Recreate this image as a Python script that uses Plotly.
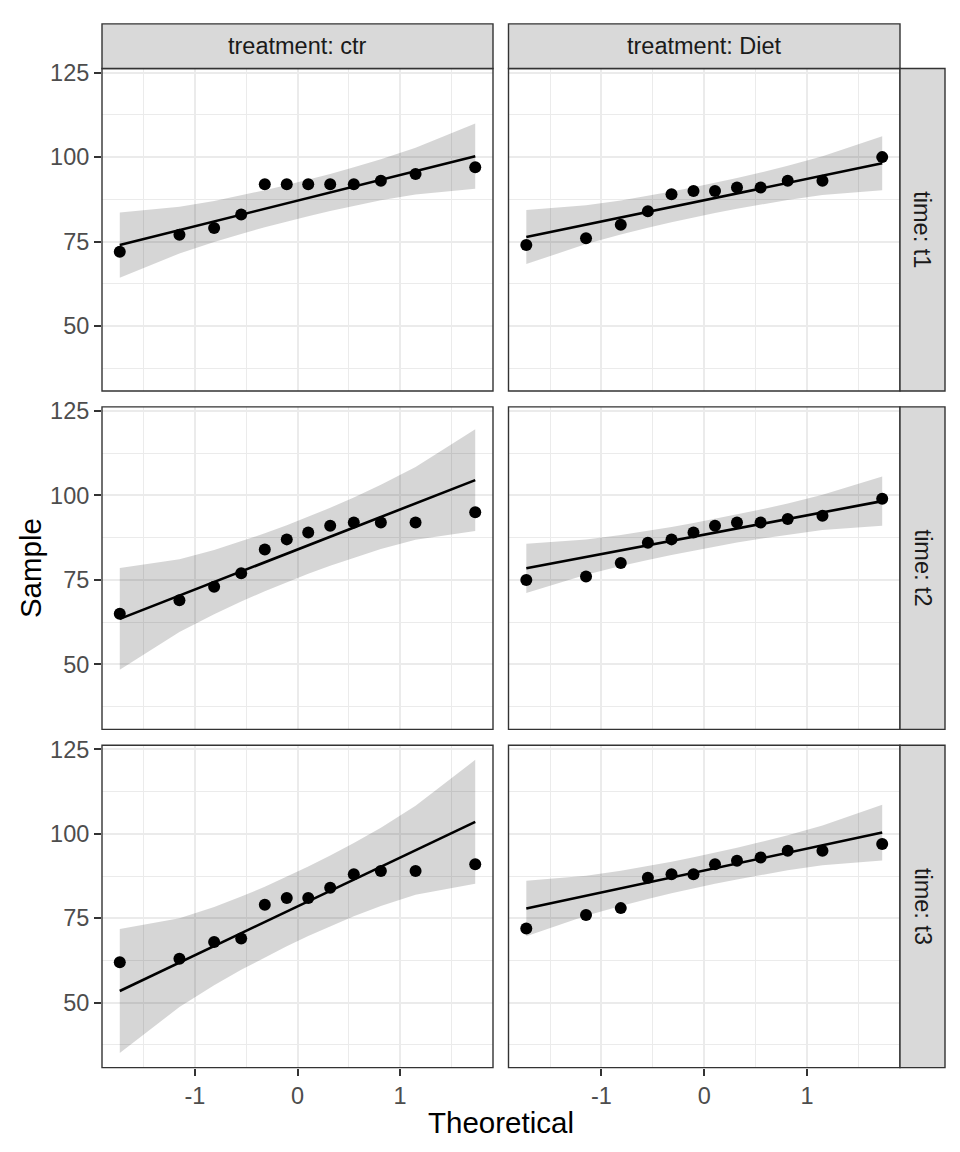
import numpy as np
import plotly.graph_objects as go
from statistics import NormalDist

# ---- data ----
treatments = ["ctr", "Diet"]
times = ["t1", "t2", "t3"]

ctr_t1 = [72, 77, 79, 83, 92, 92, 92, 92, 92, 93, 95, 97]
ctr_t2 = [65, 69, 73, 77, 84, 87, 89, 91, 92, 92, 92, 95]
ctr_t3 = [62, 63, 68, 69, 79, 81, 81, 84, 88, 89, 89, 91]
diet_t1 = [74, 76, 80, 84, 89, 90, 90, 91, 91, 93, 93, 100]
diet_t2 = [75, 76, 80, 86, 87, 89, 91, 92, 92, 93, 94, 99]
diet_t3 = [72, 76, 78, 87, 88, 88, 91, 92, 93, 95, 95, 97]

samples = {
    ("ctr", "t1"): ctr_t1, ("ctr", "t2"): ctr_t2, ("ctr", "t3"): ctr_t3,
    ("Diet", "t1"): diet_t1, ("Diet", "t2"): diet_t2, ("Diet", "t3"): diet_t3,
}

x_ticks = [-1, 0, 1]
x_ticklabels = ["-1", "0", "1"]
x_minor = [-1.5, -0.5, 0.5, 1.5]
y_ticks = [50, 75, 100, 125]
y_ticklabels = ["50", "75", "100", "125"]
y_minor = [37.5, 62.5, 87.5, 112.5]

# ---- QQ statistics (as ggqqplot computes them) ----
nd = NormalDist()


def qq_stats(values, level=0.95):
    y = np.sort(np.asarray(values, dtype=float))
    n = len(y)
    a = 3 / 8 if n <= 10 else 0.5
    P = (np.arange(1, n + 1) - a) / (n + 1 - 2 * a)
    z = np.array([nd.inv_cdf(p) for p in P])
    qy = np.quantile(y, [0.25, 0.75])
    qz = np.array([nd.inv_cdf(0.25), nd.inv_cdf(0.75)])
    b = (qy[1] - qy[0]) / (qz[1] - qz[0])
    a0 = qy[0] - b * qz[0]
    zz = nd.inv_cdf(1 - (1 - level) / 2)
    dens = np.array([nd.pdf(v) for v in z])
    se = (b / dens) * np.sqrt(P * (1 - P) / n)
    fit = a0 + b * z
    return z, y, fit, fit + zz * se, fit - zz * se


stats = {k: qq_stats(v) for k, v in samples.items()}

# shared ranges with 5% expansion
all_z = np.concatenate([s[0] for s in stats.values()])
all_y = np.concatenate([np.concatenate([s[1], s[3], s[4]]) for s in stats.values()])
zx0, zx1 = all_z.min(), all_z.max()
yx0, yx1 = all_y.min(), all_y.max()
xr = [zx0 - 0.05 * (zx1 - zx0), zx1 + 0.05 * (zx1 - zx0)]
yr = [yx0 - 0.05 * (yx1 - yx0), yx1 + 0.05 * (yx1 - yx0)]

# ---- layout geometry (pixels) ----
W, H = 960, 1152
col_px = [(102, 493), (508.5, 900)]
row_px = [(60, 385), (401, 726), (742, 1067)]
strip_top = (15, 60)
strip_right = (900, 945)


def px(x):
    return x / W


def py(y):
    return 1 - y / H


FONT = "Liberation Sans, Arial, Helvetica, sans-serif"
BORDER = "#333333"
GRID = "#EBEBEB"
STRIP = "#D9D9D9"
SMALL = 23.5
BIG = 29.5

fig = go.Figure()
layout = dict(
    width=W, height=H, margin=dict(l=0, r=0, t=0, b=0), autosize=False,
    paper_bgcolor="white", plot_bgcolor="white", showlegend=False,
    font=dict(family=FONT),
)
shapes = []
annotations = []

idx = 0
for ri, t in enumerate(times):
    for ci, tr in enumerate(treatments):
        idx += 1
        xa = "x" if idx == 1 else f"x{idx}"
        ya = "y" if idx == 1 else f"y{idx}"
        xkey = "xaxis" if idx == 1 else f"xaxis{idx}"
        ykey = "yaxis" if idx == 1 else f"yaxis{idx}"
        z, y, fit, up, lo = stats[(tr, t)]

        fig.add_trace(go.Scatter(
            x=np.concatenate([z, z[::-1]]), y=np.concatenate([up, lo[::-1]]),
            fill="toself", fillcolor="rgba(0,0,0,0.16)", line=dict(width=0),
            mode="lines", hoverinfo="skip", xaxis=xa, yaxis=ya))
        fig.add_trace(go.Scatter(
            x=z, y=fit, mode="lines", line=dict(color="black", width=2.6),
            xaxis=xa, yaxis=ya))
        fig.add_trace(go.Scatter(
            x=z, y=y, mode="markers", marker=dict(color="black", size=12),
            xaxis=xa, yaxis=ya))

        bottom = ri == len(times) - 1
        left = ci == 0
        layout[xkey] = dict(
            domain=[px(col_px[ci][0]), px(col_px[ci][1])],
            anchor=ya, range=xr, tickmode="array", tickvals=x_ticks,
            ticktext=x_ticklabels,
            showgrid=True, gridcolor=GRID, gridwidth=2, zeroline=False,
            minor=dict(tickmode="array", tickvals=x_minor, showgrid=True,
                       gridcolor=GRID, gridwidth=1),
            showticklabels=bottom,
            ticks="outside" if bottom else "", ticklen=7, tickwidth=2.2,
            tickcolor=BORDER,
            tickfont=dict(size=SMALL, color="#4D4D4D", family=FONT),
            showline=False,
        )
        layout[ykey] = dict(
            domain=[py(row_px[ri][1]), py(row_px[ri][0])],
            anchor=xa, range=yr, tickmode="array", tickvals=y_ticks,
            ticktext=y_ticklabels,
            showgrid=True, gridcolor=GRID, gridwidth=2, zeroline=False,
            minor=dict(tickmode="array", tickvals=y_minor, showgrid=True,
                       gridcolor=GRID, gridwidth=1),
            showticklabels=left,
            ticks="outside" if left else "", ticklen=7, tickwidth=2.2,
            tickcolor=BORDER,
            tickfont=dict(size=SMALL, color="#4D4D4D", family=FONT),
            showline=False,
        )
        # panel border
        shapes.append(dict(
            type="rect", xref="paper", yref="paper",
            x0=px(col_px[ci][0]), x1=px(col_px[ci][1]),
            y0=py(row_px[ri][1]), y1=py(row_px[ri][0]),
            line=dict(color=BORDER, width=1.4), fillcolor="rgba(0,0,0,0)",
            layer="above"))

# top strips
for ci, tr in enumerate(treatments):
    shapes.append(dict(
        type="rect", xref="paper", yref="paper",
        x0=px(col_px[ci][0]), x1=px(col_px[ci][1]),
        y0=py(strip_top[1]), y1=py(strip_top[0]),
        line=dict(color=BORDER, width=1.4), fillcolor=STRIP, layer="above"))
    annotations.append(dict(
        text=f"treatment: {tr}", xref="paper", yref="paper",
        x=px((col_px[ci][0] + col_px[ci][1]) / 2),
        y=py((strip_top[0] + strip_top[1]) / 2),
        showarrow=False, xanchor="center", yanchor="middle",
        font=dict(size=SMALL, color="#1A1A1A", family=FONT)))

# right strips
for ri, t in enumerate(times):
    shapes.append(dict(
        type="rect", xref="paper", yref="paper",
        x0=px(strip_right[0]), x1=px(strip_right[1]),
        y0=py(row_px[ri][1]), y1=py(row_px[ri][0]),
        line=dict(color=BORDER, width=1.4), fillcolor=STRIP, layer="above"))
    annotations.append(dict(
        text=f"time: {t}", xref="paper", yref="paper",
        x=px((strip_right[0] + strip_right[1]) / 2),
        y=py((row_px[ri][0] + row_px[ri][1]) / 2),
        showarrow=False, xanchor="center", yanchor="middle", textangle=90,
        font=dict(size=SMALL, color="#1A1A1A", family=FONT)))

# axis titles
annotations.append(dict(
    text="Theoretical", xref="paper", yref="paper",
    x=px((col_px[0][0] + col_px[1][1]) / 2), y=py(1122),
    showarrow=False, xanchor="center", yanchor="middle",
    font=dict(size=BIG, color="black", family=FONT)))
annotations.append(dict(
    text="Sample", xref="paper", yref="paper",
    x=px(30), y=py((row_px[0][0] + row_px[2][1]) / 2),
    showarrow=False, xanchor="center", yanchor="middle", textangle=-90,
    font=dict(size=BIG, color="black", family=FONT)))

layout["shapes"] = shapes
layout["annotations"] = annotations
fig.update_layout(**layout)

post = (
    "document.documentElement.style.margin='0';"
    "document.documentElement.style.padding='0';"
    "document.documentElement.style.overflow='hidden';"
    "document.body.style.margin='0';"
    "document.body.style.padding='0';"
    "document.body.style.overflow='hidden';"
    "var d=document.getElementById('{plot_id}');"
    "d.style.position='fixed';d.style.top='0px';d.style.left='0px';"
)

fig.write_html(
    "out.html",
    config={"displayModeBar": False, "responsive": False},
    post_script=post,
)
